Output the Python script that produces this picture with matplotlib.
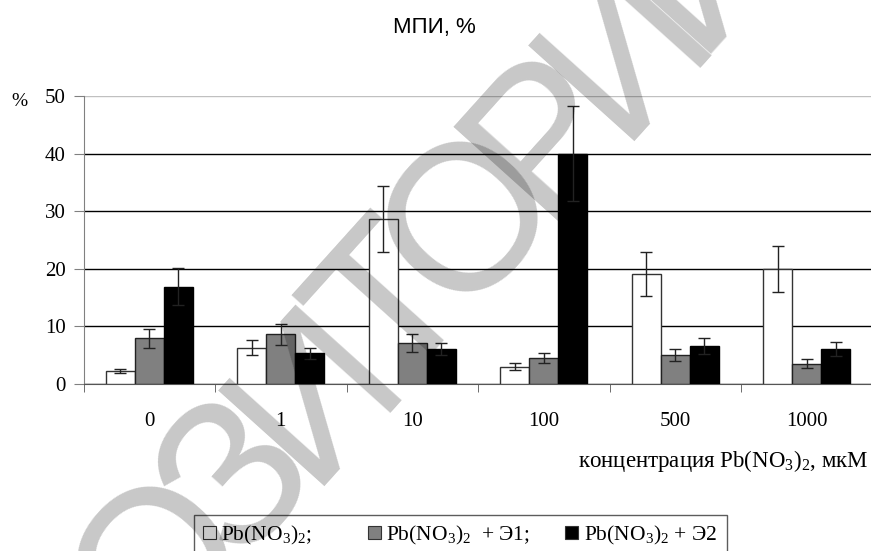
import numpy as np
import matplotlib
matplotlib.use("Agg")
import matplotlib.pyplot as plt
from matplotlib.patches import Rectangle

plt.rcParams['font.family'] = ['Liberation Serif', 'DejaVu Serif']
plt.rcParams['mathtext.fontset'] = 'custom'
plt.rcParams['mathtext.rm'] = 'Liberation Serif'
plt.rcParams['mathtext.it'] = 'Liberation Serif'

# data
conc = ['0', '1', '10', '100', '500', '1000']
pb = [2.3, 6.3, 28.6, 3.0, 19.1, 19.9]
pb_err = [0.35, 1.3, 5.7, 0.65, 3.8, 4.0]
pb_e1 = [7.9, 8.6, 7.1, 4.5, 5.0, 3.5]
pb_e1_err = [1.7, 1.8, 1.5, 0.9, 1.05, 0.8]
pb_e2 = [16.9, 5.3, 6.1, 40.0, 6.6, 6.1]
pb_e2_err = [3.2, 1.0, 1.0, 8.2, 1.45, 1.25]
labels = ['Pb(NO$_3$)$_2$;          ', 'Pb(NO$_3$)$_2$  + Э1;      ', 'Pb(NO$_3$)$_2$ + Э2 ']
watermark = 'РЕПОЗИТОРИЙ'

W, H = 871, 551
fig = plt.figure(figsize=(W / 100, H / 100), dpi=100)
ax = fig.add_axes([83.5 / W, 1 - 384 / H, 789 / W, 288 / H])

x = np.arange(len(conc))
bw = 0.22
ekw = dict(ecolor='#222222', elinewidth=1, capsize=4, capthick=1)
ax.bar(x - bw, pb, bw, yerr=pb_err, color='white', edgecolor='#333333', lw=1, error_kw=ekw, zorder=3)
ax.bar(x, pb_e1, bw, yerr=pb_e1_err, color='#808080', edgecolor='#222222', lw=1, error_kw=ekw, zorder=3)
ax.bar(x + bw, pb_e2, bw, yerr=pb_e2_err, color='black', edgecolor='black', lw=1, error_kw=ekw, zorder=3)

ax.set_xlim(-0.5, len(conc) - 0.5)
ax.set_ylim(0, 50)
ax.set_yticks(range(0, 51, 10))
ax.set_xticks(x)
ax.set_xticklabels(conc)
ax.set_xticks(np.arange(-0.5, len(conc), 1), minor=True)
ax.tick_params(axis='x', which='major', length=0, pad=20, labelsize=15)
ax.tick_params(axis='x', which='minor', length=6, color='#555555', direction='out')
ax.tick_params(axis='y', length=7, color='#808080', pad=6, labelsize=15)

ax.set_axisbelow(True)
ax.yaxis.grid(True, color='black', lw=1)
ax.get_ygridlines()[-1].set_color('#c0c0c0')
for s in ['top', 'right']:
    ax.spines[s].set_visible(False)
ax.spines['left'].set_color('#808080')
ax.spines['bottom'].set_color('#555555')

fig.text(434 / W, 1 - 28 / H, 'МПИ, %', family='Liberation Sans', fontsize=16, ha='center', va='center')
fig.text(19 / W, 1 - 101 / H, '%', fontsize=14, ha='center', va='center')
fig.text(868 / W, 1 - 461 / H, 'концентрация Pb(NO$_3$)$_2$, мкМ', fontsize=16.5, ha='right', va='center')

handles = [Rectangle((0, 0), 1, 1, fc=c, ec='#333333', lw=0.8) for c in ['white', '#808080', 'black']]
leg = fig.legend(handles, labels, ncol=3, loc='upper left', bbox_to_anchor=(194 / W, 1 - 515 / H),
                 fontsize=15.5, frameon=True, fancybox=False, handlelength=0.6, handleheight=0.6,
                 handletextpad=0.25, columnspacing=0.3, borderpad=0.4, borderaxespad=0)
leg.get_frame().set_edgecolor('#333333')
leg.get_frame().set_linewidth(1)

# repository watermark, one letter at a time along the diagonal
ang = 48
step = 116
cx, cy = 240, 480  # centre of the 5th letter
for i, ch in enumerate(watermark):
    px = cx + (i - 4) * step * np.cos(np.radians(ang))
    py = cy - (i - 4) * step * np.sin(np.radians(ang))
    fig.text(px / W, 1 - py / H, ch, family='Liberation Sans', fontsize=150,
             color='black', alpha=0.22, rotation=ang, rotation_mode='anchor',
             ha='center', va='center', zorder=10)

fig.savefig('out.png', dpi=100)
